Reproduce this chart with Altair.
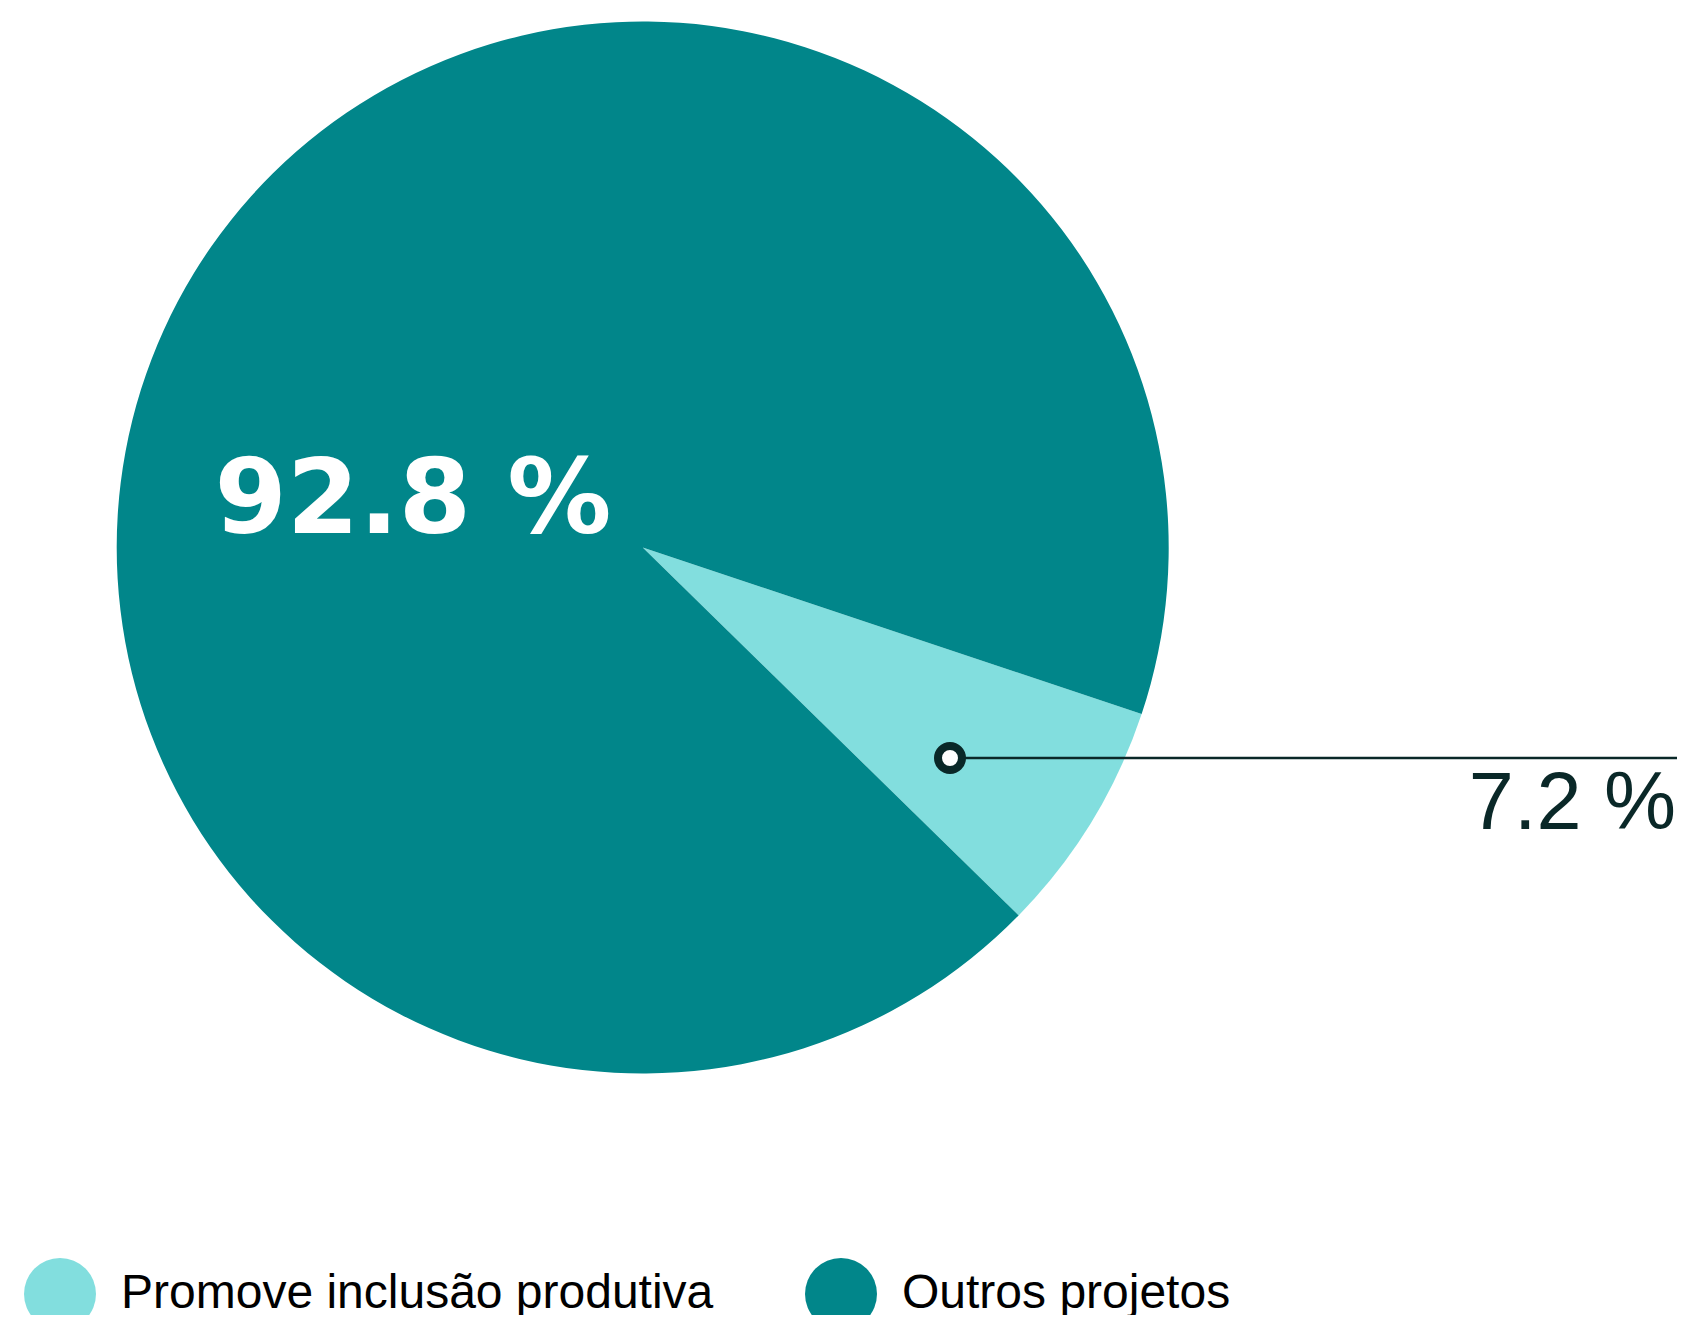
import math
import altair as alt
import pandas as pd

categories = ["Promove inclusão produtiva", "Outros projetos"]
values = [7.2, 92.8]
labels = ["7.2 %", "92.8 %"]
colors = ["#82DEDE", "#01868A"]
dark = "#0A2828"

df = pd.DataFrame({
    "categoria": categories,
    "valor": values,
    "rotulo": labels,
    "ordem": [0, 1],
})

W, H = 1669, 1307
cx, cy, R = 634.7, 539.5, 526
start = math.radians(108.46)

base = alt.Chart(df)

pie = base.mark_arc(outerRadius=R, strokeWidth=0).encode(
    theta=alt.Theta("valor:Q", stack=True, scale=alt.Scale(range=[start, start + 2 * math.pi])),
    order=alt.Order("ordem:Q"),
    color=alt.Color(
        "categoria:N",
        scale=alt.Scale(domain=categories, range=colors),
        sort=categories,
        legend=alt.Legend(
            title=None,
            orient="none",
            legendX=16,
            legendY=1250,
            direction="horizontal",
            symbolType="circle",
            symbolSize=5184,
            symbolStrokeWidth=0,
            symbolOpacity=1,
            labelFont="Liberation Sans",
            labelFontSize=48,
            labelColor="#000000",
            labelLimit=2000,
            labelOffset=25,
            columnPadding=91,
            padding=0,
        ),
    ),
    x=alt.value(cx),
    y=alt.value(cy),
)

big_label = base.transform_filter(alt.datum.ordem == 1).mark_text(
    font="DejaVu Sans", fontWeight="bold", fontSize=104, color="white",
    align="center", baseline="alphabetic",
).encode(text="rotulo:N", x=alt.value(405), y=alt.value(525))

small_label = base.transform_filter(alt.datum.ordem == 0).mark_text(
    font="Liberation Sans", fontSize=81, color=dark,
    align="right", baseline="alphabetic",
).encode(text="rotulo:N", x=alt.value(1668), y=alt.value(821))

leader = base.transform_filter(alt.datum.ordem == 0).mark_rule(
    color=dark, strokeWidth=2.5
).encode(x=alt.value(942), x2=alt.value(1671), y=alt.value(750))

dot = base.transform_filter(alt.datum.ordem == 0).mark_point(
    shape="circle", size=576, filled=True, fill="white", stroke=dark,
    strokeWidth=8, opacity=1,
).encode(x=alt.value(942), y=alt.value(750))

chart = alt.layer(pie, big_label, leader, dot, small_label).properties(
    width=W, height=H, autosize=alt.AutoSizeParams(type="none"), padding=0
).configure_view(stroke=None)

chart.save("out.html", embed_options={"renderer": "svg", "actions": False})
